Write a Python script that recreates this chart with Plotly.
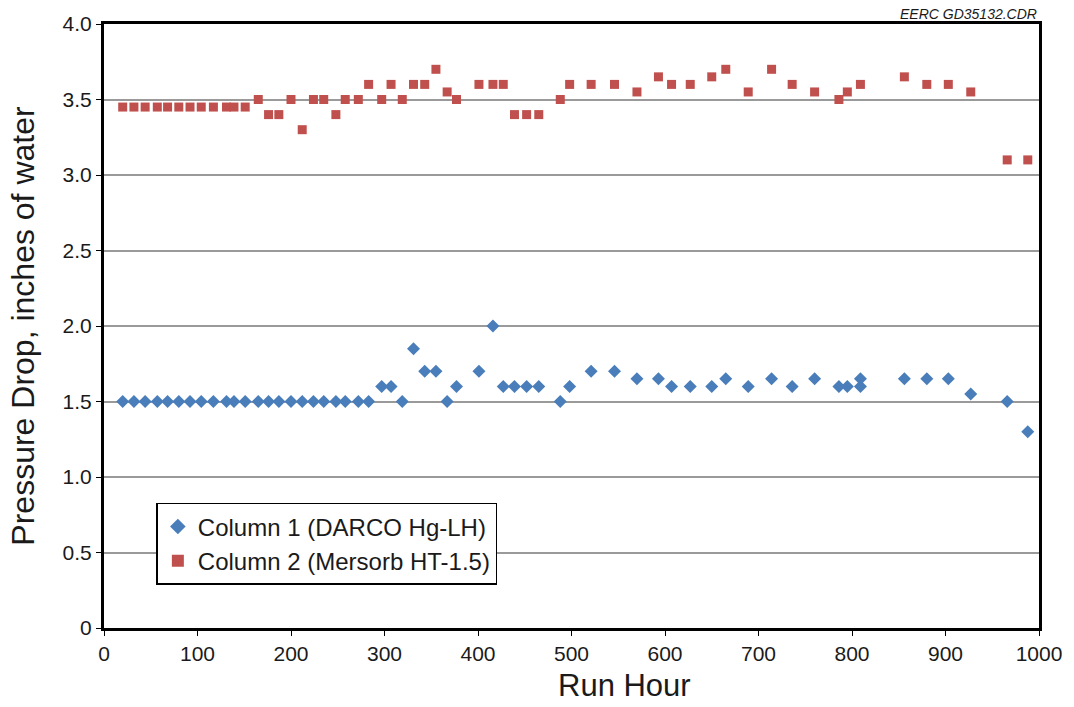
import plotly.graph_objects as go

run_hour = [20, 32, 44, 57, 68, 80, 92, 104, 117, 131, 139, 151, 165, 176, 187, 200, 212, 224, 235, 248, 258, 272, 283,
            297, 307, 319, 331, 343, 355, 367, 377, 401, 416, 427, 439, 452, 465, 488, 498, 521, 546, 570, 593, 607,
            627, 650, 665, 689, 714, 736, 760, 786, 795, 809, 856, 880, 903, 927, 966, 988]

col1 = [1.5] * 23 + [1.6, 1.6, 1.5, 1.85, 1.7, 1.7, 1.5, 1.6, 1.7, 2.0, 1.6, 1.6, 1.6, 1.6, 1.5, 1.6, 1.7, 1.7,
                     1.65, 1.65, 1.6, 1.6, 1.6, 1.65, 1.6, 1.65, 1.6, 1.65, 1.6, 1.6, 1.65, 1.65, 1.65, 1.65,
                     1.55, 1.5, 1.3]
col1_extra_x = [809]
col1_extra_y = [1.6]

col2 = [3.45] * 12 + [3.5, 3.4, 3.4, 3.5, 3.3, 3.5, 3.5, 3.4, 3.5, 3.5, 3.6,
                      3.5, 3.6, 3.5, 3.6, 3.6, 3.7, 3.55, 3.5, 3.6, 3.6, 3.6, 3.4, 3.4, 3.4, 3.5, 3.6, 3.6, 3.6,
                      3.55, 3.65, 3.6, 3.6, 3.65, 3.7, 3.55, 3.7, 3.6, 3.55, 3.5, 3.55, 3.6, 3.65, 3.6, 3.6,
                      3.55, 3.1, 3.1]

x_ticks = [0, 100, 200, 300, 400, 500, 600, 700, 800, 900, 1000]
y_ticks = [0, 0.5, 1.0, 1.5, 2.0, 2.5, 3.0, 3.5, 4.0]
y_ticktext = ["0", "0.5", "1.0", "1.5", "2.0", "2.5", "3.0", "3.5", "4.0"]

blue = "#4a7ebb"
red = "#c0504d"

fig = go.Figure()
fig.add_trace(go.Scatter(x=run_hour + col1_extra_x, y=col1 + col1_extra_y, mode="markers",
                         name="Column 1 (DARCO Hg-LH)",
                         marker=dict(symbol="diamond", size=10, color=blue)))
fig.add_trace(go.Scatter(x=run_hour, y=col2, mode="markers",
                         name="Column 2 (Mersorb HT-1.5)",
                         marker=dict(symbol="square", size=9, color=red)))

font_family = "Liberation Sans, Arial, sans-serif"

fig.update_layout(
    width=1074, height=707,
    margin=dict(l=104, r=29, t=20, b=79),
    paper_bgcolor="white", plot_bgcolor="white",
    font=dict(family=font_family, color="#1a1a1a"),
    showlegend=True,
    legend=dict(x=0.056, y=0.207, xanchor="left", yanchor="top",
                bgcolor="white", bordercolor="black", borderwidth=1.5,
                font=dict(size=24), itemsizing="constant", tracegroupgap=0, itemwidth=30),
    xaxis=dict(range=[0, 1000], tickvals=x_ticks, ticks="outside", ticklen=5, tickwidth=1,
               tickcolor="black", tickfont=dict(size=21),
               showline=True, linecolor="black", linewidth=3, mirror=True,
               showgrid=False, zeroline=False),
    yaxis=dict(range=[0, 4.0], tickvals=y_ticks, ticktext=y_ticktext, ticks="outside", ticklen=5,
               tickwidth=1, tickcolor="black", tickfont=dict(size=21),
               showline=True, linecolor="black", linewidth=3, mirror=True,
               showgrid=True, gridcolor="#9a9a9a", gridwidth=1.5, zeroline=False,
               title=dict(text="Pressure Drop, inches of water", font=dict(size=32), standoff=19)),
    annotations=[
        dict(text="<i>EERC GD35132.CDR</i>", xref="paper", yref="paper", x=1.0, y=1.0,
             xanchor="right", yanchor="bottom", showarrow=False,
             font=dict(size=14, color="#1a1a1a"), yshift=0),
        dict(text="Run Hour", xref="paper", yref="paper", x=0.557, y=0,
             xanchor="center", yanchor="middle", showarrow=False, yshift=-57,
             font=dict(size=31, color="#1a1a1a")),
    ],
)

fig.write_html("out.html")
